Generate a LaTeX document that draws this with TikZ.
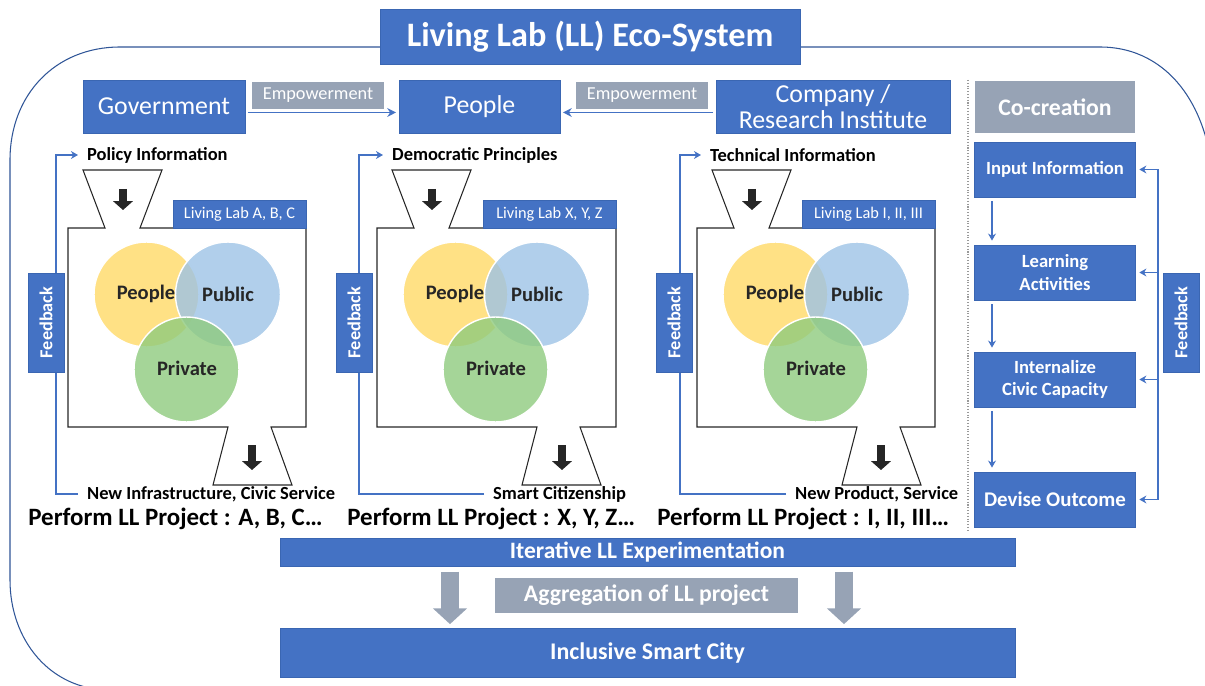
\documentclass[tikz,border=0pt]{standalone}
\usepackage{fontspec}
\setmainfont{Carlito}
\usetikzlibrary{arrows.meta}

\definecolor{llblue}{HTML}{4472C4}
\definecolor{lledge}{HTML}{3A66B2}
\definecolor{llgray}{HTML}{97A3B5}
\definecolor{llframe}{HTML}{2F5597}
\definecolor{vyel}{HTML}{FFD966}
\definecolor{vblu}{HTML}{9DC3E6}
\definecolor{vgrn}{HTML}{8FCB7E}

\begin{document}
\begin{tikzpicture}[x=0.02cm, y=-0.02cm,
	bluebox/.style={draw=lledge, line width=0.4pt, fill=llblue, text=white, inner sep=0pt, align=center},
	graybox/.style={fill=llgray, text=white, inner sep=0pt, align=center},
	topfont/.style={font=\fontsize{14.7}{14.7}\selectfont},
	empfont/.style={font=\fontsize{10.4}{12}\selectfont},
	fbbox/.style={bluebox, rotate=90, minimum width=1.98cm, minimum height=0.72cm, font=\fontsize{10.4}{12}\selectfont\bfseries},
	labbox/.style={bluebox, minimum width=2.66cm, minimum height=0.56cm, font=\fontsize{9.3}{11}\selectfont},
	cobox/.style={bluebox, minimum width=3.22cm, minimum height=1.1cm, font=\fontsize{10.6}{13}\selectfont\bfseries},
	labtext/.style={anchor=west, inner sep=5pt, font=\fontsize{10.5}{12}\selectfont\bfseries},
	perform/.style={anchor=west, inner sep=0pt, font=\fontsize{14.2}{16}\selectfont\bfseries},
	vtext/.style={inner sep=1pt, text=black!85, font=\fontsize{11.7}{13}\selectfont\bfseries},
	vyellow/.style={draw=white, line width=0.8pt, fill=vyel, fill opacity=0.8},
	vblue/.style={draw=white, line width=0.8pt, fill=vblu, fill opacity=0.8},
	vgreen/.style={draw=white, line width=0.8pt, fill=vgrn, fill opacity=0.8},
	flowline/.style={draw=llblue, line width=0.6pt},
	flowarrow/.style={flowline, -{Stealth[length=4pt,width=4.5pt]}},
	emparrow/.style={draw=llblue, line width=1pt, -{Stealth[length=5pt,width=5pt]}, shorten <=1.5pt, shorten >=1.5pt},
	funnel/.style={draw=black!85, line width=0.6pt},
	blkarrow/.style={draw=black!85, line width=4pt, -{Triangle[length=5pt,width=11pt]}},
	gryarrow/.style={draw=llgray, line width=10pt, -{Triangle[length=9pt,width=19pt]}, shorten <=3pt, shorten >=2pt}
	]
	\useasboundingbox (0,0) rectangle (1205,686);
	\clip (0,0) rectangle (1205,686);
	
	% frame and title
	\draw[draw=llframe, line width=0.6pt] (1214,200) .. controls (1214,110) and (1170,47) .. (1100,47) -- (120,47) .. controls (55,47) and (10,95) .. (10,160) -- (10,580) .. controls (10,640) and (50,690) .. (110,690);
	\node[bluebox, minimum width=8.4cm, minimum height=1.1cm, font=\fontsize{19.5}{22}\selectfont\bfseries] (title) at (590,37) {Living Lab (LL) Eco-System};
	
	% top row
	\node[bluebox, topfont, minimum width=3.24cm, minimum height=1.06cm] (gov) at (164,106.5) {Government};
	\node[bluebox, topfont, minimum width=3.22cm, minimum height=1.06cm] (ppl) at (479.5,106.5) {People};
	\node[bluebox, topfont, minimum width=4.68cm, minimum height=1.06cm] (comp) at (833,106.5) {Company /\\Research Institute};
	\node[graybox, empfont, minimum width=2.64cm, minimum height=0.54cm] (empA) at (318,95.5) {Empowerment};
	\node[graybox, empfont, minimum width=2.64cm, minimum height=0.54cm] (empB) at (642,95.5) {Empowerment};
	\draw[emparrow] ([yshift=-3.4pt]gov.east) -- ([yshift=-3.4pt]ppl.west);
	\draw[emparrow] ([yshift=-3.4pt]comp.west) -- ([yshift=-3.4pt]ppl.east);
	
	% living lab A
	\draw[funnel] (105,228) -- (68,228) -- (68,427) -- (228,427) -- (213,485) -- (292,485) -- (271,427) -- (306,427) -- (306,228) -- (140,228) -- (162,170) -- (83,170) -- cycle;
	\draw[blkarrow] (123,189) -- (123,210);
	\draw[blkarrow] (252,445) -- (252,470);
	\node[labbox] (labA) at (239.5,214) {Living Lab A, B, C};
	\draw[vyellow] (146.5,294.5) circle[radius=1.05cm];
	\node[vtext] (peoA) at (146,294) {People};
	\draw[vblue] (228,294.5) circle[radius=1.05cm];
	\node[vtext] (pubA) at (228,294) {Public};
	\draw[vgreen] (186.5,369.5) circle[radius=1.05cm];
	\node[vtext] (priA) at (187,368) {Private};
	\node[labtext] (inA) at (78,155) {Policy Information};
	\node[labtext] (outA) at (78,494) {New Infrastructure, Civic Service};
	\coordinate (fbA) at (56,320);
	\draw[flowarrow] (outA.west) -| (fbA) |- (inA.west);
	\node[fbbox] (fbbA) at (46,322.5) {Feedback};
	\node[perform] (prA) at (28,519) {Perform LL Project : A, B, C…};
	
	% living lab X
	\draw[funnel] (414,228) -- (377,228) -- (377,427) -- (537,427) -- (522,485) -- (601,485) -- (580,427) -- (616,427) -- (616,228) -- (449,228) -- (471,170) -- (392,170) -- cycle;
	\draw[blkarrow] (432,189) -- (432,210);
	\draw[blkarrow] (562,445) -- (562,470);
	\node[labbox] (labX) at (549.5,214) {Living Lab X, Y, Z};
	\draw[vyellow] (455.5,294.5) circle[radius=1.05cm];
	\node[vtext] (peoX) at (455,294) {People};
	\draw[vblue] (537,294.5) circle[radius=1.05cm];
	\node[vtext] (pubX) at (537,294) {Public};
	\draw[vgreen] (495.5,369.5) circle[radius=1.05cm];
	\node[vtext] (priX) at (496,368) {Private};
	\node[labtext] (inX) at (383,155) {Democratic Principles};
	\node[labtext] (outX) at (484,494) {Smart Citizenship};
	\coordinate (fbX) at (359,320);
	\draw[flowarrow] (outX.west) -| (fbX) |- (inX.west);
	\node[fbbox] (fbbX) at (354,322.5) {Feedback};
	\node[perform] (prX) at (347,519) {Perform LL Project : X, Y, Z…};
	
	% living lab I
	\draw[funnel] (734,228) -- (697,228) -- (697,427) -- (857,427) -- (842,485) -- (921,485) -- (900,427) -- (935,427) -- (935,228) -- (769,228) -- (791,170) -- (712,170) -- cycle;
	\draw[blkarrow] (752,189) -- (752,210);
	\draw[blkarrow] (881,445) -- (881,470);
	\node[labbox] (labI) at (868.5,214) {Living Lab I, II, III};
	\draw[vyellow] (775.5,294.5) circle[radius=1.05cm];
	\node[vtext] (peoI) at (775,294) {People};
	\draw[vblue] (857,294.5) circle[radius=1.05cm];
	\node[vtext] (pubI) at (857,294) {Public};
	\draw[vgreen] (815.5,369.5) circle[radius=1.05cm];
	\node[vtext] (priI) at (816,368) {Private};
	\node[labtext] (inI) at (701,155) {Technical Information};
	\node[labtext] (outI) at (786,494) {New Product, Service};
	\coordinate (fbI) at (680,320);
	\draw[flowarrow] (outI.west) -| (fbI) |- (inI.west);
	\node[fbbox] (fbbI) at (674,322.5) {Feedback};
	\node[perform] (prI) at (657,519) {Perform LL Project : I, II, III…};
	
	% co-creation
	\draw[densely dotted, black!40, line width=0.6pt] (968,80) -- (968,530);
	\node[graybox, minimum width=3.2cm, minimum height=1.04cm, font=\fontsize{13.5}{15}\selectfont\bfseries] (cocr) at (1055,107) {Co-creation};
	\node[cobox] (inp) at (1055,169.5) {Input Information};
	\node[cobox] (lrn) at (1055,272.5) {Learning\\Activities};
	\node[cobox] (intl) at (1055,379.5) {Internalize\\Civic Capacity};
	\node[cobox, font=\fontsize{11.9}{14}\selectfont\bfseries] (dev) at (1055,499.5) {Devise Outcome};
	\coordinate (ccx) at (992,0);
	\draw[flowarrow, line width=0.9pt, shorten <=2.3pt, shorten >=2.3pt] (inp.south -| ccx) -- (lrn.north -| ccx);
	\draw[flowarrow, line width=0.9pt, shorten <=2.3pt, shorten >=2.3pt] (lrn.south -| ccx) -- (intl.north -| ccx);
	\draw[flowarrow, line width=0.9pt, shorten <=2.3pt, shorten >=2.3pt] (intl.south -| ccx) -- (dev.north -| ccx);
	\coordinate (fbr) at (1158,0);
	\draw[flowline, line width=0.8pt] (inp.east -| fbr) -- (dev.east -| fbr);
	\draw[flowarrow, line width=0.8pt, shorten >=2pt] (inp.east -| fbr) -- (inp.east);
	\draw[flowarrow, line width=0.8pt, shorten >=2pt] (lrn.east -| fbr) -- (lrn.east);
	\draw[flowarrow, line width=0.8pt, shorten >=2pt] (intl.east -| fbr) -- (intl.east);
	\draw[flowarrow, line width=0.8pt, shorten >=2pt] (dev.east -| fbr) -- (dev.east);
	\node[fbbox] (fbbC) at (1181,322.5) {Feedback};
	
	% bottom
	\node[bluebox, minimum width=14.7cm, minimum height=0.56cm, font=\fontsize{13.4}{15}\selectfont\bfseries] (iter) at (647.5,552) {Iterative LL Experimentation};
	\node[graybox, minimum width=6.06cm, minimum height=0.7cm, font=\fontsize{13.5}{15}\selectfont\bfseries] (agg) at (646.5,595.5) {Aggregation of LL project};
	\node[bluebox, minimum width=14.7cm, minimum height=0.98cm, font=\fontsize{13.6}{15}\selectfont\bfseries] (city) at (647.5,652.5) {Inclusive Smart City};
	\coordinate (gaL) at (450,600);
	\coordinate (gaR) at (844,600);
	\draw[gryarrow] (iter.south -| gaL) -- (city.north -| gaL);
	\draw[gryarrow] (iter.south -| gaR) -- (city.north -| gaR);
\end{tikzpicture}
\end{document}
